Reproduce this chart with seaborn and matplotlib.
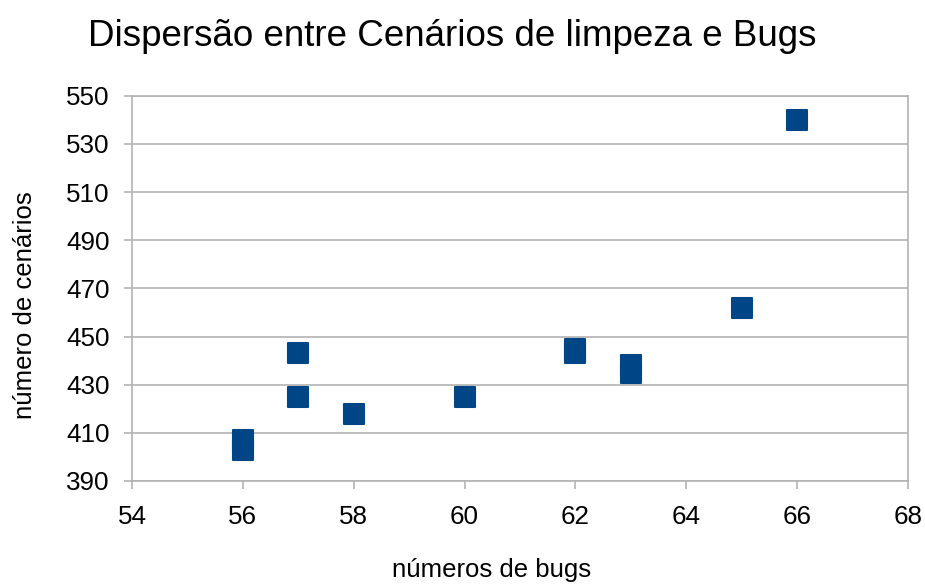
import matplotlib
matplotlib.use("Agg")
import matplotlib.pyplot as plt
import seaborn as sns
import pandas as pd

bugs = [56, 56, 57, 57, 58, 60, 62, 62, 63, 63, 65, 66]
cenarios = [403, 407, 443, 425, 418, 425, 443, 445, 435, 438, 462, 540]
x_ticks = [54, 56, 58, 60, 62, 64, 66, 68]
y_ticks = [390, 410, 430, 450, 470, 490, 510, 530, 550]

title = "Dispersão entre Cenários de limpeza e Bugs"
xlabel = "números de bugs"
ylabel = "número de cenários"

df = pd.DataFrame({"bugs": bugs, "cenarios": cenarios})

sns.set_theme(style="white")
plt.rcParams["font.family"] = ["Liberation Sans", "DejaVu Sans"]

fig = plt.figure(figsize=(9.25, 5.85), dpi=100)
ax = fig.add_axes([132 / 925, 1 - 481 / 585, (908 - 132) / 925, (481 - 95.7) / 585])

grid_c = "#b3b3b3"
blue = "#004586"

sns.scatterplot(data=df, x="bugs", y="cenarios", ax=ax, marker="s", s=200,
                color=blue, edgecolor=blue, linewidth=1.5, zorder=3, legend=False)
for coll in ax.collections:
    coll.set_joinstyle("round")

ax.set_xlim(54, 68)
ax.set_ylim(390, 550)
ax.set_xticks(x_ticks)
ax.set_yticks(y_ticks)
ax.set_xticklabels([str(v) for v in x_ticks])
ax.set_yticklabels([str(v) for v in y_ticks])
ax.yaxis.grid(True, color=grid_c, linewidth=1.2)
ax.xaxis.grid(False)
ax.set_axisbelow(True)
for s in ax.spines.values():
    s.set_color(grid_c)
    s.set_linewidth(1.2)
ax.tick_params(axis="both", which="major", direction="out", length=6, width=1.2,
               color=grid_c, labelsize=18.7, labelcolor="#000000")
ax.tick_params(axis="x", pad=11, bottom=True)
ax.tick_params(axis="y", pad=10, left=True)

ax.set_xlabel(xlabel, fontsize=18.5, color="#000000")
ax.set_ylabel(ylabel, fontsize=18.5, color="#000000")
ax.xaxis.set_label_coords((492 - 132) / 776, -(570 - 481) / 385.3)
ax.yaxis.set_label_coords(-(132 - 25) / 776, (481 - 305) / 385.3)
ax.xaxis.label.set_verticalalignment("center")
ax.yaxis.label.set_verticalalignment("center")

fig.text(452 / 925, 1 - 36 / 585, title, fontsize=26.5, ha="center", va="center", color="#000000")

fig.savefig("out.png", dpi=100, facecolor="white")
